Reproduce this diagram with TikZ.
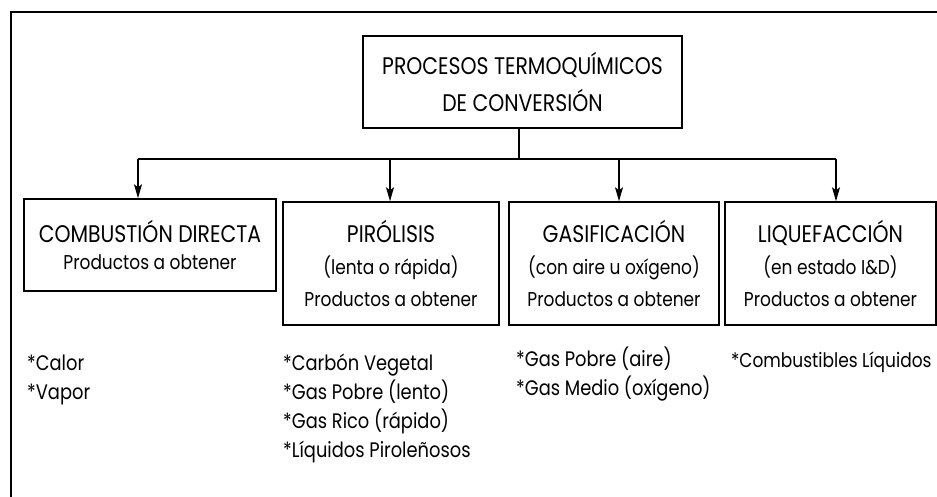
\documentclass[tikz,border=0pt]{standalone}
\usepackage{fontspec}
\setmainfont{Poppins}[FakeStretch=0.85]
\usetikzlibrary{arrows.meta}
\newcommand{\capsline}[1]{{\fontsize{24}{32}\selectfont #1}}
\begin{document}
\begin{tikzpicture}[x=1pt,y=-1pt,
  box/.style={draw=black, line width=1.5pt, rectangle, inner sep=0pt, align=center},
  boxfont/.style={font=\fontsize{20}{32}\selectfont},
  conn/.style={line width=1.3pt},
  arr/.style={line width=1.3pt, -{Stealth[length=14pt,width=8pt,inset=3pt]}},
  item/.style={anchor=base west, inner sep=0pt, align=left, font=\fontsize{21}{29}\selectfont}
]
\useasboundingbox (0,0) rectangle (937,497);
\fill[white] (0,0) rectangle (937,497);
\draw[line width=2.5pt] (11,497) -- (11,12) -- (940,12);

\node[box, minimum width=319pt, minimum height=92pt, font=\fontsize{24}{37}\selectfont] (top) at (522.5,82) {PROCESOS TERMOQUÍMICOS\\DE CONVERSIÓN};

\node[box, minimum width=252pt, minimum height=92pt, font=\fontsize{20}{27}\selectfont] (comb) at (150,245) {\capsline{COMBUSTIÓN DIRECTA}\\Productos a obtener};
\node[box, boxfont, minimum width=216pt, minimum height=123pt] (piro) at (391,263.5) {\capsline{PIRÓLISIS}\\(lenta o rápida)\\Productos a obtener};
\node[box, boxfont, minimum width=210pt, minimum height=123pt] (gasi) at (614,263.5) {\capsline{GASIFICACIÓN}\\(con aire u oxígeno)\\Productos a obtener};
\node[box, boxfont, minimum width=211pt, minimum height=123pt] (liq) at (830.5,263.5) {\capsline{LIQUEFACCIÓN}\\(en estado I\&D)\\Productos a obtener};

\coordinate (bus) at (519,159);
\coordinate (a1) at (138,159);
\coordinate (a2) at (390,159);
\coordinate (a3) at (619,159);
\coordinate (a4) at (836,159);

\draw[conn] (top.south -| bus) -- (bus);
\draw[conn] (a1) -- (a4);
\draw[arr] (a1) -- (a1 |- comb.north);
\draw[arr] (a2) -- (a2 |- piro.north);
\draw[arr] (a3) -- (a3 |- gasi.north);
\draw[arr] (a4) -- (a4 |- liq.north);

\node[item] (l1) at (27,399) {*Calor\\*Vapor};
\node[item] (l2) at (283,457) {*Carbón Vegetal\\*Gas Pobre (lento)\\*Gas Rico (rápido)\\*Líquidos Piroleñosos};
\node[item] (l3) at (516,395) {*Gas Pobre (aire)\\*Gas Medio (oxígeno)};
\node[item, font=\fontsize{20}{29}\selectfont] (l4) at (731,367) {*Combustibles Líquidos};
\end{tikzpicture}
\end{document}
